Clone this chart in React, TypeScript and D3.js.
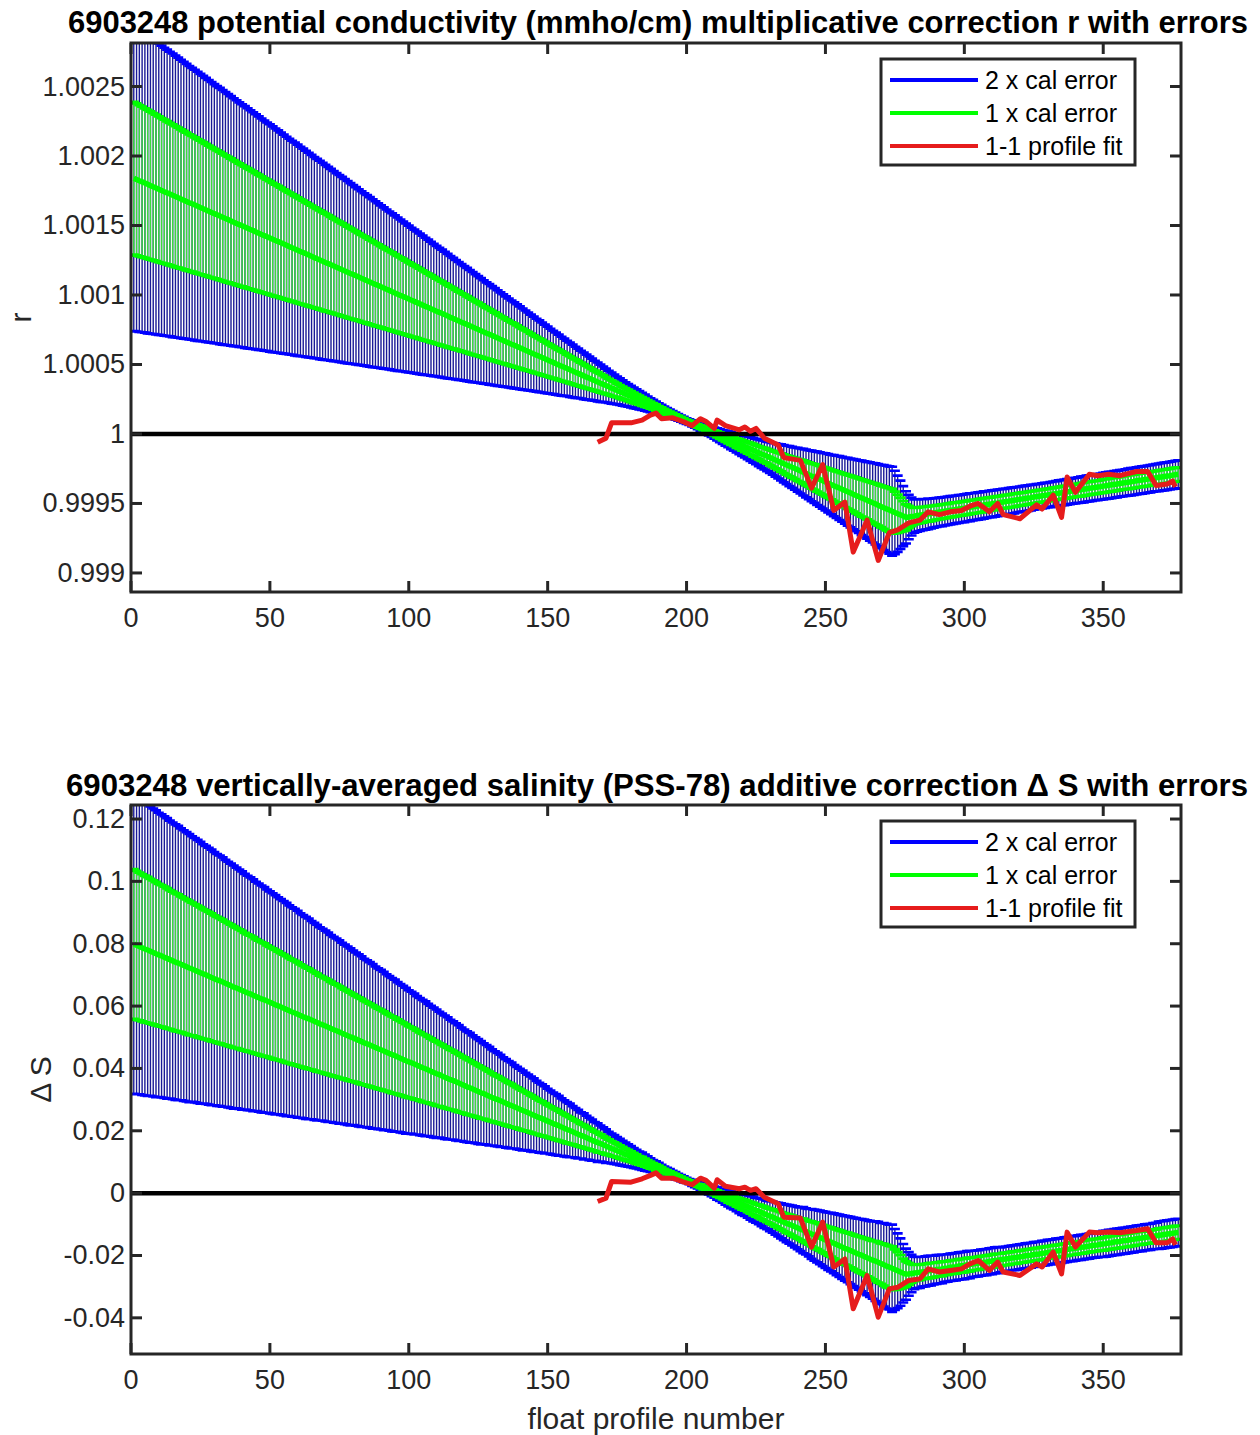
import React from "react";
import * as d3 from "d3";

// ---------- data ----------
const profiles = d3.range(1, 378); // float profile numbers 1..377
const xDomain: [number, number] = [0, 378];
const xTicks = [0, 50, 100, 150, 200, 250, 300, 350];

// potential conductivity multiplicative correction r (fit) and its 1x calibration error
const rFit = [
1.00184,1.001831,1.001822,1.001814,1.001805,1.001796,1.001787,1.001779,1.00177,1.001761,
1.001752,1.001743,1.001735,1.001726,1.001717,1.001708,1.0017,1.001691,1.001682,1.001673,
1.001664,1.001656,1.001647,1.001638,1.001629,1.001621,1.001612,1.001603,1.001594,1.001585,
1.001577,1.001568,1.001559,1.00155,1.001542,1.001533,1.001524,1.001515,1.001506,1.001498,
1.001489,1.00148,1.001471,1.001463,1.001454,1.001445,1.001436,1.001427,1.001419,1.00141,
1.001401,1.001392,1.001384,1.001375,1.001366,1.001357,1.001348,1.00134,1.001331,1.001322,
1.001313,1.001305,1.001296,1.001287,1.001278,1.001269,1.001261,1.001252,1.001243,1.001234,
1.001226,1.001217,1.001208,1.001199,1.001191,1.001182,1.001173,1.001164,1.001155,1.001147,
1.001138,1.001129,1.00112,1.001112,1.001103,1.001094,1.001085,1.001076,1.001068,1.001059,
1.00105,1.001041,1.001033,1.001024,1.001015,1.001006,1.000997,1.000989,1.00098,1.000971,
1.000962,1.000954,1.000945,1.000936,1.000927,1.000918,1.00091,1.000901,1.000892,1.000883,
1.000875,1.000866,1.000857,1.000848,1.000839,1.000831,1.000822,1.000813,1.000804,1.000796,
1.000787,1.000778,1.000769,1.00076,1.000752,1.000743,1.000734,1.000725,1.000717,1.000708,
1.000699,1.00069,1.000681,1.000673,1.000664,1.000655,1.000646,1.000638,1.000629,1.00062,
1.000611,1.000602,1.000594,1.000585,1.000576,1.000567,1.000559,1.00055,1.000541,1.000532,
1.000523,1.000515,1.000506,1.000497,1.000488,1.00048,1.000471,1.000462,1.000453,1.000444,
1.000436,1.000427,1.000418,1.000409,1.000401,1.000392,1.000383,1.000374,1.000365,1.000357,
1.000348,1.000339,1.00033,1.000322,1.000313,1.000304,1.000295,1.000286,1.000278,1.000269,
1.00026,1.000251,1.000243,1.000234,1.000225,1.000216,1.000207,1.000199,1.00019,1.000181,
1.000172,1.000164,1.000155,1.000146,1.000137,1.000128,1.00012,1.000111,1.000102,1.000093,
1.000085,1.000076,1.000067,1.000058,1.000049,1.000041,1.000032,1.000023,1.000014,1.000006,
0.999997,0.999988,0.999979,0.99997,0.999962,0.999953,0.999944,0.999935,0.999927,0.999918,
0.999909,0.9999,0.999892,0.999883,0.999874,0.999865,0.999856,0.999848,0.999839,0.99983,
0.999821,0.999813,0.999804,0.999795,0.999786,0.999777,0.999769,0.99976,0.999751,0.999742,
0.999734,0.999725,0.999716,0.999707,0.999698,0.99969,0.999681,0.999672,0.999663,0.999655,
0.999646,0.999637,0.999628,0.999619,0.999611,0.999602,0.999593,0.999584,0.999576,0.999567,
0.999558,0.999549,0.99954,0.999532,0.999523,0.999514,0.999505,0.999497,0.999488,0.999479,
0.99947,0.999461,0.999453,0.999444,0.999435,0.999426,0.999418,0.999409,0.9994,0.999403,
0.999406,0.999409,0.999413,0.999416,0.999419,0.999422,0.999425,0.999428,0.999432,0.999435,
0.999438,0.999441,0.999444,0.999447,0.999451,0.999454,0.999457,0.99946,0.999463,0.999466,
0.99947,0.999473,0.999476,0.999479,0.999482,0.999485,0.999489,0.999492,0.999495,0.999498,
0.999501,0.999504,0.999508,0.999511,0.999514,0.999517,0.99952,0.999523,0.999527,0.99953,
0.999533,0.999536,0.999539,0.999542,0.999546,0.999549,0.999552,0.999555,0.999558,0.999561,
0.999564,0.999568,0.999571,0.999574,0.999577,0.99958,0.999583,0.999587,0.99959,0.999593,
0.999596,0.999599,0.999602,0.999606,0.999609,0.999612,0.999615,0.999618,0.999621,0.999625,
0.999628,0.999631,0.999634,0.999637,0.99964,0.999644,0.999647,0.99965,0.999653,0.999656,
0.999659,0.999663,0.999666,0.999669,0.999672,0.999675,0.999678,0.999682,0.999685,0.999688,
0.999691,0.999694,0.999697,0.9997,0.999704,0.999707,0.99971
];
const rErr = [
0.00055,0.000547,0.000544,0.000541,0.000538,0.000536,0.000533,0.00053,0.000527,0.000524,
0.000521,0.000518,0.000515,0.000512,0.00051,0.000507,0.000504,0.000501,0.000498,0.000495,
0.000492,0.000489,0.000487,0.000484,0.000481,0.000478,0.000475,0.000472,0.000469,0.000466,
0.000463,0.000461,0.000458,0.000455,0.000452,0.000449,0.000446,0.000443,0.00044,0.000437,
0.000435,0.000432,0.000429,0.000426,0.000423,0.00042,0.000417,0.000414,0.000411,0.000409,
0.000406,0.000403,0.0004,0.000397,0.000394,0.000391,0.000388,0.000385,0.000383,0.00038,
0.000377,0.000374,0.000371,0.000368,0.000365,0.000362,0.000359,0.000357,0.000354,0.000351,
0.000348,0.000345,0.000342,0.000339,0.000336,0.000334,0.000331,0.000328,0.000325,0.000322,
0.000319,0.000316,0.000313,0.00031,0.000308,0.000305,0.000302,0.000299,0.000296,0.000293,
0.00029,0.000287,0.000284,0.000282,0.000279,0.000276,0.000273,0.00027,0.000267,0.000264,
0.000261,0.000258,0.000256,0.000253,0.00025,0.000247,0.000244,0.000241,0.000238,0.000235,
0.000232,0.00023,0.000227,0.000224,0.000221,0.000218,0.000215,0.000212,0.000209,0.000206,
0.000204,0.000201,0.000198,0.000195,0.000192,0.000189,0.000186,0.000183,0.000181,0.000178,
0.000175,0.000172,0.000169,0.000166,0.000163,0.00016,0.000157,0.000155,0.000152,0.000149,
0.000146,0.000143,0.00014,0.000137,0.000134,0.000131,0.000129,0.000126,0.000123,0.00012,
0.000117,0.000114,0.000112,0.000109,0.000106,0.000103,0.0001,0.000098,0.000095,0.000092,
0.000089,0.000086,0.000084,0.000081,0.000078,0.000075,0.000072,0.00007,0.000067,0.000064,
0.000061,0.000058,0.000056,0.000053,0.00005,0.000048,0.000046,0.000043,0.000041,0.000039,
0.000037,0.000035,0.000033,0.000031,0.000029,0.000027,0.000025,0.000023,0.000022,0.00002,
0.000019,0.000017,0.000016,0.000015,0.000014,0.000013,0.000012,0.000011,0.000011,0.00001,
0.00001,0.000011,0.000011,0.000012,0.000013,0.000014,0.000015,0.000017,0.000018,0.00002,
0.000022,0.000024,0.000025,0.000027,0.000029,0.000031,0.000032,0.000034,0.000036,0.000038,
0.000039,0.000041,0.000043,0.000045,0.000046,0.000048,0.00005,0.000052,0.000053,0.000055,
0.000057,0.00006,0.000062,0.000065,0.000067,0.000069,0.000072,0.000074,0.000076,0.000079,
0.000081,0.000084,0.000086,0.000088,0.000091,0.000093,0.000096,0.000098,0.0001,0.000103,
0.000105,0.000107,0.00011,0.000112,0.000115,0.000117,0.000119,0.000122,0.000124,0.000126,
0.000129,0.000131,0.000134,0.000136,0.000138,0.000141,0.000143,0.000146,0.000148,0.00015,
0.000153,0.000155,0.000157,0.00016,0.00015,0.000137,0.000123,0.000108,0.000094,0.00008,
0.000068,0.00006,0.000058,0.000057,0.000056,0.000055,0.000055,0.000054,0.000053,0.000052,
0.000052,0.000052,0.000051,0.000051,0.000051,0.000051,0.00005,0.00005,0.00005,0.00005,
0.00005,0.00005,0.000049,0.000049,0.000049,0.000049,0.000049,0.000048,0.000048,0.000048,
0.000048,0.000048,0.000047,0.000047,0.000047,0.000047,0.000047,0.000047,0.000046,0.000046,
0.000046,0.000046,0.000046,0.000046,0.000045,0.000045,0.000045,0.000045,0.000045,0.000045,
0.000045,0.000045,0.000045,0.000046,0.000046,0.000046,0.000046,0.000046,0.000046,0.000046,
0.000046,0.000047,0.000047,0.000047,0.000047,0.000047,0.000047,0.000047,0.000047,0.000048,
0.000048,0.000048,0.000048,0.000048,0.000048,0.000048,0.000048,0.000048,0.000049,0.000049,
0.000049,0.000049,0.000049,0.000049,0.000049,0.000049,0.000049,0.000049,0.000049,0.00005,
0.00005,0.00005,0.00005,0.00005,0.00005,0.00005,0.00005
];

// vertically-averaged salinity additive correction ΔS (fit) and its 1x calibration error
const dsFit = [
0.0799,0.0795,0.0791,0.0787,0.0783,0.078,0.0776,0.0772,0.0768,0.0764,
0.0761,0.0757,0.0753,0.0749,0.0745,0.0741,0.0738,0.0734,0.073,0.0726,
0.0722,0.0719,0.0715,0.0711,0.0707,0.0703,0.07,0.0696,0.0692,0.0688,
0.0684,0.0681,0.0677,0.0673,0.0669,0.0665,0.0661,0.0658,0.0654,0.065,
0.0646,0.0642,0.0639,0.0635,0.0631,0.0627,0.0623,0.062,0.0616,0.0612,
0.0608,0.0604,0.0601,0.0597,0.0593,0.0589,0.0585,0.0581,0.0578,0.0574,
0.057,0.0566,0.0562,0.0559,0.0555,0.0551,0.0547,0.0543,0.054,0.0536,
0.0532,0.0528,0.0524,0.0521,0.0517,0.0513,0.0509,0.0505,0.0501,0.0498,
0.0494,0.049,0.0486,0.0482,0.0479,0.0475,0.0471,0.0467,0.0463,0.046,
0.0456,0.0452,0.0448,0.0444,0.0441,0.0437,0.0433,0.0429,0.0425,0.0421,
0.0418,0.0414,0.041,0.0406,0.0402,0.0399,0.0395,0.0391,0.0387,0.0383,
0.038,0.0376,0.0372,0.0368,0.0364,0.0361,0.0357,0.0353,0.0349,0.0345,
0.0341,0.0338,0.0334,0.033,0.0326,0.0322,0.0319,0.0315,0.0311,0.0307,
0.0303,0.03,0.0296,0.0292,0.0288,0.0284,0.0281,0.0277,0.0273,0.0269,
0.0265,0.0262,0.0258,0.0254,0.025,0.0246,0.0242,0.0239,0.0235,0.0231,
0.0227,0.0223,0.022,0.0216,0.0212,0.0208,0.0204,0.0201,0.0197,0.0193,
0.0189,0.0185,0.0182,0.0178,0.0174,0.017,0.0166,0.0162,0.0159,0.0155,
0.0151,0.0147,0.0143,0.014,0.0136,0.0132,0.0128,0.0124,0.0121,0.0117,
0.0113,0.0109,0.0105,0.0102,0.0098,0.0094,0.009,0.0086,0.0082,0.0079,
0.0075,0.0071,0.0067,0.0063,0.006,0.0056,0.0052,0.0048,0.0044,0.0041,
0.0037,0.0033,0.0029,0.0025,0.0022,0.0018,0.0014,0.001,0.0006,0.0003,
-0.0001,-0.0005,-0.0009,-0.0013,-0.0017,-0.002,-0.0024,-0.0028,-0.0032,-0.0036,
-0.0039,-0.0043,-0.0047,-0.0051,-0.0055,-0.0058,-0.0062,-0.0066,-0.007,-0.0074,
-0.0077,-0.0081,-0.0085,-0.0089,-0.0093,-0.0097,-0.01,-0.0104,-0.0108,-0.0112,
-0.0116,-0.0119,-0.0123,-0.0127,-0.0131,-0.0135,-0.0138,-0.0142,-0.0146,-0.015,
-0.0154,-0.0157,-0.0161,-0.0165,-0.0169,-0.0173,-0.0177,-0.018,-0.0184,-0.0188,
-0.0192,-0.0196,-0.0199,-0.0203,-0.0207,-0.0211,-0.0215,-0.0218,-0.0222,-0.0226,
-0.023,-0.0234,-0.0237,-0.0241,-0.0245,-0.0249,-0.0253,-0.0257,-0.026,-0.0259,
-0.0258,-0.0256,-0.0255,-0.0254,-0.0252,-0.0251,-0.0249,-0.0248,-0.0247,-0.0245,
-0.0244,-0.0243,-0.0241,-0.024,-0.0238,-0.0237,-0.0236,-0.0234,-0.0233,-0.0232,
-0.023,-0.0229,-0.0227,-0.0226,-0.0225,-0.0223,-0.0222,-0.0221,-0.0219,-0.0218,
-0.0216,-0.0215,-0.0214,-0.0212,-0.0211,-0.021,-0.0208,-0.0207,-0.0206,-0.0204,
-0.0203,-0.0201,-0.02,-0.0199,-0.0197,-0.0196,-0.0195,-0.0193,-0.0192,-0.019,
-0.0189,-0.0188,-0.0186,-0.0185,-0.0184,-0.0182,-0.0181,-0.0179,-0.0178,-0.0177,
-0.0175,-0.0174,-0.0173,-0.0171,-0.017,-0.0168,-0.0167,-0.0166,-0.0164,-0.0163,
-0.0162,-0.016,-0.0159,-0.0157,-0.0156,-0.0155,-0.0153,-0.0152,-0.0151,-0.0149,
-0.0148,-0.0146,-0.0145,-0.0144,-0.0142,-0.0141,-0.014,-0.0138,-0.0137,-0.0135,
-0.0134,-0.0133,-0.0131,-0.013,-0.0129,-0.0127,-0.0126
];
const dsErr = [
0.024,0.0239,0.0237,0.0236,0.0235,0.0234,0.0232,0.0231,0.023,0.0228,
0.0227,0.0226,0.0225,0.0223,0.0222,0.0221,0.022,0.0218,0.0217,0.0216,
0.0215,0.0213,0.0212,0.0211,0.021,0.0208,0.0207,0.0206,0.0205,0.0203,
0.0202,0.0201,0.02,0.0198,0.0197,0.0196,0.0195,0.0193,0.0192,0.0191,
0.0189,0.0188,0.0187,0.0186,0.0184,0.0183,0.0182,0.0181,0.0179,0.0178,
0.0177,0.0176,0.0174,0.0173,0.0172,0.0171,0.0169,0.0168,0.0167,0.0166,
0.0164,0.0163,0.0162,0.0161,0.0159,0.0158,0.0157,0.0155,0.0154,0.0153,
0.0152,0.015,0.0149,0.0148,0.0147,0.0145,0.0144,0.0143,0.0142,0.014,
0.0139,0.0138,0.0137,0.0135,0.0134,0.0133,0.0132,0.013,0.0129,0.0128,
0.0127,0.0125,0.0124,0.0123,0.0122,0.012,0.0119,0.0118,0.0117,0.0115,
0.0114,0.0113,0.0111,0.011,0.0109,0.0108,0.0106,0.0105,0.0104,0.0103,
0.0101,0.01,0.0099,0.0098,0.0096,0.0095,0.0094,0.0093,0.0091,0.009,
0.0089,0.0088,0.0086,0.0085,0.0084,0.0083,0.0081,0.008,0.0079,0.0077,
0.0076,0.0075,0.0074,0.0072,0.0071,0.007,0.0069,0.0067,0.0066,0.0065,
0.0064,0.0062,0.0061,0.006,0.0059,0.0057,0.0056,0.0055,0.0054,0.0052,
0.0051,0.005,0.0049,0.0048,0.0046,0.0045,0.0044,0.0043,0.0041,0.004,
0.0039,0.0037,0.0037,0.0035,0.0034,0.0033,0.0031,0.0031,0.0029,0.0028,
0.0027,0.0025,0.0024,0.0023,0.0022,0.0021,0.002,0.0019,0.0018,0.0017,
0.0016,0.0015,0.0014,0.0014,0.0013,0.0012,0.0011,0.001,0.001,0.0009,
0.0008,0.0007,0.0007,0.0007,0.0006,0.0006,0.0005,0.0005,0.0005,0.0004,
0.0004,0.0005,0.0005,0.0005,0.0006,0.0006,0.0007,0.0007,0.0008,0.0009,
0.001,0.001,0.0011,0.0012,0.0013,0.0014,0.0014,0.0015,0.0016,0.0017,
0.0017,0.0018,0.0019,0.002,0.002,0.0021,0.0022,0.0023,0.0023,0.0024,
0.0025,0.0026,0.0027,0.0028,0.0029,0.003,0.0031,0.0032,0.0033,0.0034,
0.0035,0.0037,0.0037,0.0038,0.004,0.0041,0.0042,0.0043,0.0044,0.0045,
0.0046,0.0047,0.0048,0.0049,0.005,0.0051,0.0052,0.0053,0.0054,0.0055,
0.0056,0.0057,0.0058,0.0059,0.006,0.0061,0.0062,0.0064,0.0065,0.0065,
0.0067,0.0068,0.0068,0.007,0.0065,0.006,0.0054,0.0047,0.0041,0.0035,
0.003,0.0026,0.0025,0.0025,0.0024,0.0024,0.0024,0.0024,0.0023,0.0023,
0.0023,0.0023,0.0022,0.0022,0.0022,0.0022,0.0022,0.0022,0.0022,0.0022,
0.0022,0.0022,0.0021,0.0021,0.0021,0.0021,0.0021,0.0021,0.0021,0.0021,
0.0021,0.0021,0.002,0.002,0.002,0.002,0.002,0.002,0.002,0.002,
0.002,0.002,0.002,0.002,0.002,0.002,0.002,0.002,0.002,0.002,
0.002,0.002,0.002,0.002,0.002,0.002,0.002,0.002,0.002,0.002,
0.002,0.002,0.002,0.002,0.002,0.002,0.002,0.002,0.002,0.0021,
0.0021,0.0021,0.0021,0.0021,0.0021,0.0021,0.0021,0.0021,0.0021,0.0021,
0.0021,0.0021,0.0021,0.0021,0.0021,0.0021,0.0021,0.0021,0.0021,0.0022,
0.0022,0.0022,0.0022,0.0022,0.0022,0.0022,0.0022
];

// 1-1 profile fit (red), profiles 168..376
const fitProfiles = [168,171,173,180,184,187,189,191,195,199,202,205,207,210,211,214,219,221,223,225,228,233,235,241,245,249,253,257,260,265,269,273,276,280,284,287,291,295,299,302,305,309,312,314,320,326,328,332,335,337,340,345,348,352,356,362,366,369,373,375,376];
const rProfileFit = [0.99994,0.99997,1.00008,1.00008,1.0001,1.000135,1.00015,1.00011,1.000116,1.000087,1.00006,1.00011,1.00009,1.00004,1.0001,1.00006,1.00003,1.00005,1.00002,1.00004,0.99997,0.99992,0.99983,0.99981,0.99961,0.99978,0.99945,0.99951,0.99915,0.99938,0.99909,0.99929,0.99931,0.99936,0.99938,0.99944,0.99942,0.99944,0.99945,0.99948,0.9995,0.99944,0.9995,0.99942,0.99939,0.99949,0.99946,0.99956,0.9994,0.99969,0.99958,0.99971,0.9997,0.99971,0.9997,0.99973,0.99973,0.99963,0.99964,0.99966,0.99962];
const dsProfileFit = [-0.0027,-0.0016,0.0037,0.0035,0.0046,0.0057,0.0065,0.0048,0.0048,0.0035,0.0027,0.0048,0.0041,0.0016,0.0043,0.0022,0.0014,0.0019,0.0009,0.0014,-0.0013,-0.0034,-0.0077,-0.008,-0.0173,-0.0093,-0.0237,-0.0211,-0.0371,-0.0264,-0.0398,-0.0307,-0.0302,-0.028,-0.0275,-0.0243,-0.0253,-0.0248,-0.0243,-0.0227,-0.0216,-0.0248,-0.0221,-0.0253,-0.0264,-0.0227,-0.0237,-0.0189,-0.0259,-0.0125,-0.0173,-0.0125,-0.0127,-0.0125,-0.0127,-0.012,-0.0114,-0.0159,-0.0159,-0.0147,-0.0166];

const rTicks = [0.999, 0.9995, 1, 1.0005, 1.001, 1.0015, 1.002, 1.0025];
const rTickLabels = ["0.999", "0.9995", "1", "1.0005", "1.001", "1.0015", "1.002", "1.0025"];
const dsTicks = [-0.04, -0.02, 0, 0.02, 0.04, 0.06, 0.08, 0.1, 0.12];
const dsTickLabels = ["-0.04", "-0.02", "0", "0.02", "0.04", "0.06", "0.08", "0.1", "0.12"];
const legendLabels = ["2 x cal error", "1 x cal error", "1-1 profile fit"];

// ---------- style ----------
const FONT = '"Liberation Sans", Arial, Helvetica, sans-serif';
const AX = "#262626";
const BLUE = "#0000ff";
const BLUE_BAR = "#1a1a96";
const GREEN = "#00ff00";
const GREEN_BAR = "#3cdc3c";
const RED = "#e61c1c";
const L = 131, R = 1181;
const CAP = 5;

type PanelCfg = {
  id: string;
  top: number;
  bottom: number;
  yDomain: [number, number];
  ticks: number[];
  tickLabels: string[];
  fit: number[];
  err: number[];
  redY: number[];
  ref: number;
  title: string;
  titleY: number;
  titleX: number;
  titleLen: number;
  ylabel: string;
  ylabelX: number;
};

function Panel({ c }: { c: PanelCfg }) {
  const x = d3.scaleLinear().domain(xDomain).range([L, R]);
  const y = d3.scaleLinear().domain(c.yDomain).range([c.bottom, c.top]);

  const bars = (k: number) =>
    profiles
      .map((p, i) => {
        const cx = x(p);
        return `M${cx},${y(c.fit[i] - k * c.err[i])}V${y(c.fit[i] + k * c.err[i])}`;
      })
      .join("");
  const caps = (k: number) =>
    profiles
      .map((p, i) => {
        const cx = x(p);
        const lo = y(c.fit[i] - k * c.err[i]);
        const hi = y(c.fit[i] + k * c.err[i]);
        return `M${cx - CAP},${lo}H${cx + CAP}M${cx - CAP},${hi}H${cx + CAP}`;
      })
      .join("");
  const fitLine = d3
    .line<number>()
    .x((_, i) => x(profiles[i]))
    .y((v) => y(v))(c.fit) as string;
  const redLine = d3
    .line<number>()
    .x((_, i) => x(fitProfiles[i]))
    .y((v) => y(v))(c.redY) as string;

  const lgTop = c.top;
  const legendColors = [BLUE, GREEN, RED];

  return (
    <g>
      <defs>
        <clipPath id={`clip-${c.id}`}>
          <rect x={L} y={c.top} width={R - L} height={c.bottom - c.top} />
        </clipPath>
      </defs>
      <text
        x={c.titleX}
        y={c.titleY}
        textAnchor="middle"
        dominantBaseline="central"
        fontFamily={FONT}
        fontWeight="bold"
        fontSize={31}
        fill="#000"
        textLength={c.titleLen}
        lengthAdjust="spacingAndGlyphs"
      >
        {c.title}
      </text>
      <rect x={L} y={c.top} width={R - L} height={c.bottom - c.top} fill="#fff" />
      <g clipPath={`url(#clip-${c.id})`}>
        <path d={bars(2)} stroke={BLUE_BAR} strokeWidth={1.4} fill="none" />
        <path d={caps(2)} stroke={BLUE} strokeWidth={2.6} fill="none" />
        <path d={fitLine} stroke={BLUE} strokeWidth={2.5} fill="none" />
        <path d={bars(1)} stroke={GREEN_BAR} strokeWidth={1.4} fill="none" />
        <path d={caps(1)} stroke={GREEN} strokeWidth={2.8} fill="none" />
        <path d={fitLine} stroke={GREEN} strokeWidth={5.5} fill="none" />
        <line x1={x(xDomain[0])} x2={x(xDomain[1])} y1={y(c.ref)} y2={y(c.ref)} stroke="#000" strokeWidth={4.5} />
        <path d={redLine} stroke={RED} strokeWidth={5} fill="none" strokeLinejoin="round" />
      </g>
      {/* axes box and ticks */}
      <rect x={L} y={c.top} width={R - L} height={c.bottom - c.top} fill="none" stroke={AX} strokeWidth={3} />
      {xTicks.map((t) => (
        <g key={`xt${t}`}>
          <line x1={x(t)} x2={x(t)} y1={c.bottom} y2={c.bottom - 11} stroke={AX} strokeWidth={3} />
          <line x1={x(t)} x2={x(t)} y1={c.top} y2={c.top + 11} stroke={AX} strokeWidth={3} />
          <text
            x={x(t)}
            y={c.bottom + 26}
            textAnchor="middle"
            dominantBaseline="central"
            fontFamily={FONT}
            fontSize={27}
            fill={AX}
          >
            {t}
          </text>
        </g>
      ))}
      {c.ticks.map((t, i) => (
        <g key={`yt${i}`}>
          <line x1={L} x2={L + 11} y1={y(t)} y2={y(t)} stroke={AX} strokeWidth={3} />
          <line x1={R} x2={R - 11} y1={y(t)} y2={y(t)} stroke={AX} strokeWidth={3} />
          <text
            x={L - 6}
            y={y(t)}
            textAnchor="end"
            dominantBaseline="central"
            fontFamily={FONT}
            fontSize={27}
            fill={AX}
          >
            {c.tickLabels[i]}
          </text>
        </g>
      ))}
      <text
        transform={`translate(${c.ylabelX},${(c.top + c.bottom) / 2}) rotate(-90)`}
        textAnchor="middle"
        dominantBaseline="central"
        fontFamily={FONT}
        fontSize={30}
        fill={AX}
      >
        {c.ylabel}
      </text>
      {/* legend */}
      <rect x={881} y={lgTop + 16} width={254} height={106} fill="#fff" stroke={AX} strokeWidth={3} />
      {legendLabels.map((lab, i) => {
        const ly = lgTop + 37 + i * 33;
        return (
          <g key={lab}>
            <line x1={890} x2={978} y1={ly} y2={ly} stroke={legendColors[i]} strokeWidth={4} />
            <text x={985} y={ly} dominantBaseline="central" fontFamily={FONT} fontSize={25} fill="#000">
              {lab}
            </text>
          </g>
        );
      })}
    </g>
  );
}

export default function App() {
  const top: PanelCfg = {
    id: "r",
    top: 43,
    bottom: 592,
    yDomain: [0.998863, 1.002813],
    ticks: rTicks,
    tickLabels: rTickLabels,
    fit: rFit,
    err: rErr,
    redY: rProfileFit,
    ref: 1,
    title: "6903248 potential conductivity (mmho/cm) multiplicative correction r with errors",
    titleY: 22,
    titleX: 658,
    titleLen: 1180,
    ylabel: "r",
    ylabelX: 20,
  };
  const bottom: PanelCfg = {
    id: "ds",
    top: 805,
    bottom: 1354,
    yDomain: [-0.0516, 0.1245],
    ticks: dsTicks,
    tickLabels: dsTickLabels,
    fit: dsFit,
    err: dsErr,
    redY: dsProfileFit,
    ref: 0,
    title: "6903248 vertically-averaged salinity (PSS-78) additive correction \u0394 S with errors",
    titleY: 785,
    titleX: 657,
    titleLen: 1182,
    ylabel: "\u0394 S",
    ylabelX: 40,
  };
  return (
    <svg
      width={1260}
      height={1435}
      viewBox="0 0 1260 1435"
      style={{ position: "absolute", left: 0, top: 0, background: "#fff" }}
    >
      <rect x={0} y={0} width={1260} height={1435} fill="#fff" />
      <Panel c={top} />
      <Panel c={bottom} />
      <text
        x={656}
        y={1418}
        textAnchor="middle"
        dominantBaseline="central"
        fontFamily={FONT}
        fontSize={30}
        fill={AX}
      >
        float profile number
      </text>
    </svg>
  );
}
